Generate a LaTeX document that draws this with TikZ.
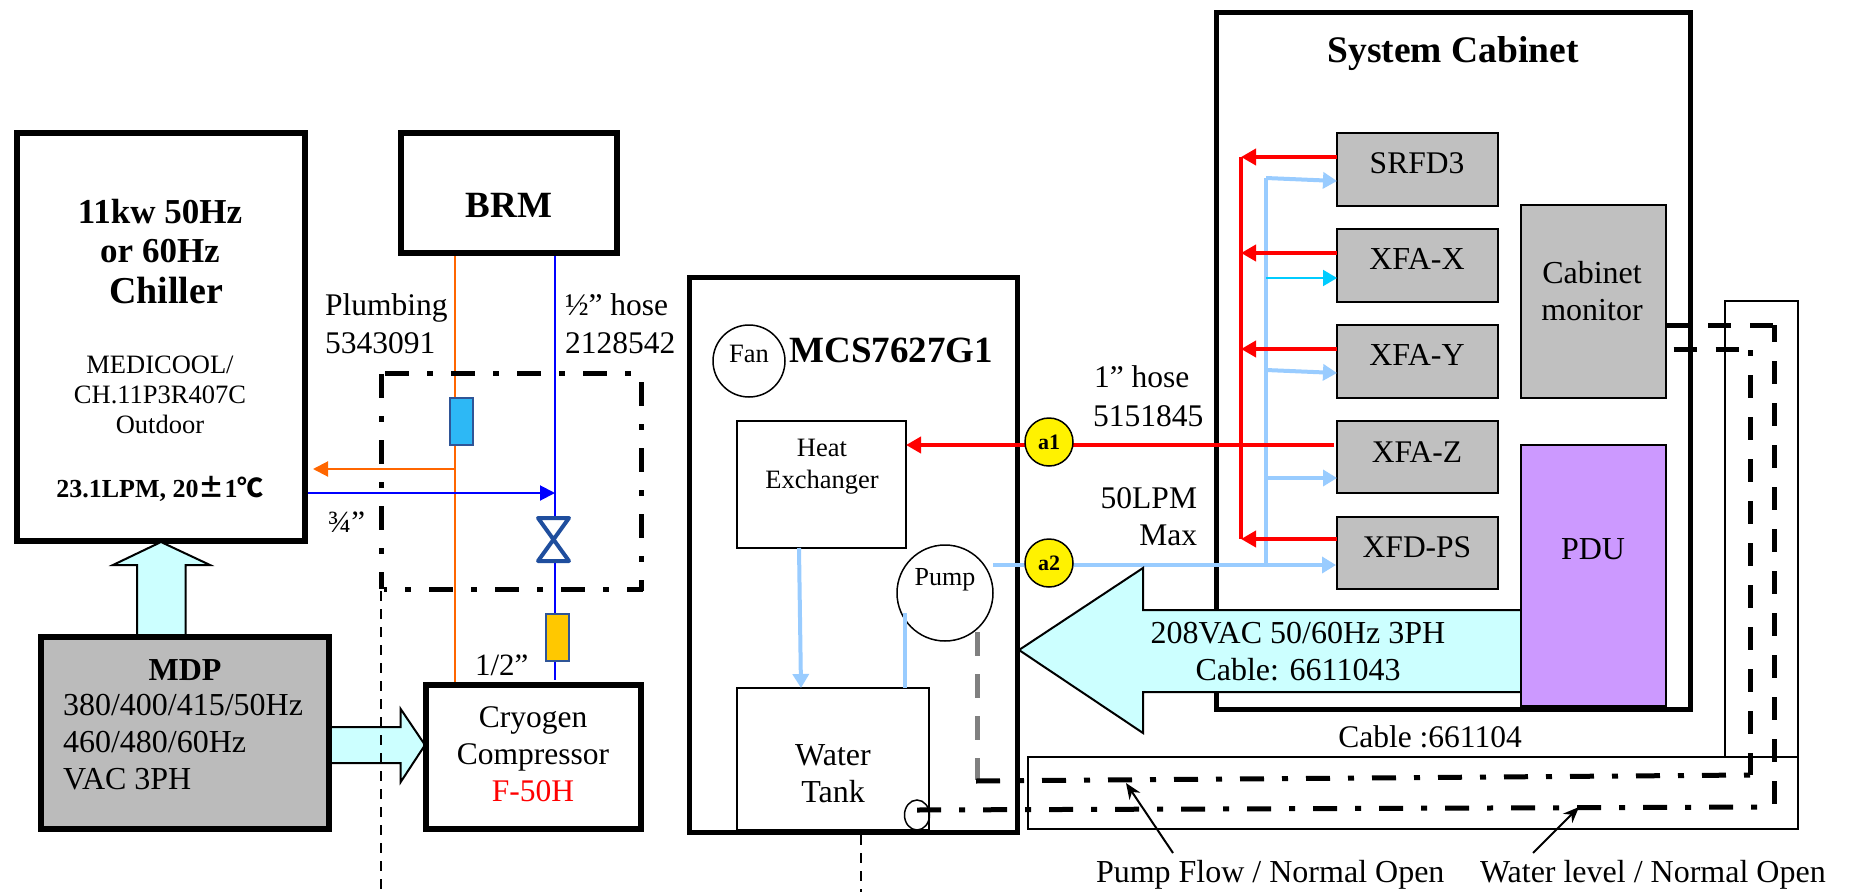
\documentclass[tikz,border=0pt]{standalone}
\usepackage{fontspec}
\setmainfont{Liberation Serif}
\newfontfamily\cjk{Noto Sans CJK SC}
\usetikzlibrary{arrows.meta,shapes.geometric}
\definecolor{pipeblue}{HTML}{99CCFF}
\definecolor{paleblock}{HTML}{CCFFFF}
\definecolor{greybox}{HTML}{C0C0C0}
\definecolor{mdpgrey}{HTML}{BBBBBB}
\definecolor{pdupurple}{HTML}{CC99FF}
\definecolor{orangeline}{HTML}{FF6600}
\definecolor{valveblue}{HTML}{1F4E9E}
\definecolor{edgeblue}{HTML}{2F5597}
\definecolor{filtercyan}{HTML}{2DB8F5}
\definecolor{filteramber}{HTML}{FFC800}
\definecolor{thincyan}{HTML}{00CCFF}
\newcommand{\fsz}[1]{\fontsize{#1}{#1}\selectfont}
\newcommand{\bx}[6][]{\node[#1,minimum width={#5-#3},minimum height={#6-#4}] (#2) at ({(#3+#5)/2},{(#4+#6)/2}) {};}
\tikzset{
  base box/.style={draw,rectangle,inner sep=0pt,outer sep=0pt},
  thick box/.style={base box,line width=6pt,fill=white},
  thin box/.style={base box,line width=2pt,fill=white},
  grey box/.style={base box,line width=2pt,fill=greybox},
  tube/.style={base box,line width=2pt,draw=edgeblue},
  txt/.style={anchor=base,inner sep=0pt,outer sep=0pt,align=center},
  ltxt/.style={anchor=base west,inner sep=0pt,outer sep=0pt,align=left},
  rtxt/.style={anchor=base east,inner sep=0pt,outer sep=0pt,align=right},
  badge/.style={draw,circle,fill=yellow,line width=1.5pt,inner sep=0pt,outer sep=0pt,minimum size=48pt},
  round box/.style={draw,circle,fill=white,line width=1.5pt,inner sep=0pt,outer sep=0pt},
  block/.style={draw,line width=2pt,fill=paleblock,line join=miter},
  redpipe/.style={red,line width=4pt},
  bluepipe/.style={pipeblue,line width=4pt},
  redhead/.style={redpipe,-{Triangle[length=15pt,width=16pt]}},
  bluehead/.style={bluepipe,-{Triangle[length=14pt,width=16pt]}},
  dashdotline/.style={line width=5pt,dash pattern=on 24pt off 18pt on 6pt off 18pt},
  dashline/.style={line width=5pt,dash pattern=on 23pt off 19pt},
  guide/.style={line width=2pt,dash pattern=on 10pt off 8pt},
  pointer/.style={line width=2pt,-{Stealth[length=16pt,width=13pt]}},
}
\begin{document}
\begin{tikzpicture}[x=1pt,y=-1pt]
\useasboundingbox (0,0) rectangle (1853,894);
% Left: chiller, BRM
\bx[thick box]{chiller}{17}{133}{305}{541}
\bx[thick box]{brm}{401}{133}{617}{253}
\node[txt] (t11) at (160,223) {\fsz{35}\bfseries 11kw 50Hz};
\node[txt] (t12) at (160,262) {\fsz{35}\bfseries or 60Hz};
\node[txt] (t13) at (166,303) {\fsz{38}\bfseries Chiller};
\node[txt] (t14) at (160,373) {\fsz{26.5}MEDICOOL/};
\node[txt] (t15) at (160,403) {\fsz{26.5}CH.11P3R407C};
\node[txt] (t16) at (160,433) {\fsz{26.5}Outdoor};
\node[txt] (t17) at (160,497) {\fsz{26}\bfseries 23.1LPM, 20{\cjk ±}1{\cjk ℃}};
\node[txt] (tbrm) at (509,217) {\fsz{37}\bfseries BRM};
% Block arrows
\draw[block] (161,542) -- (210,565) -- (185.5,565) -- (185.5,637) -- (137,637) -- (137,565) -- (113,565) -- cycle;
\draw[block] (332,727) -- (400.7,727) -- (400.7,709) -- (425,745) -- (400.7,782) -- (400.7,763) -- (332,763);
% Pipes
\coordinate (orbr) at (454.5,256);
\coordinate (orcr) at (454.5,685);
\coordinate (orjn) at (454.5,469);
\coordinate (blbr) at (555,256);
\coordinate (bljn) at (555,493);
\coordinate (vtop) at (555,518);
\coordinate (vbot) at (555,561);
\coordinate (blcr) at (555,680);
\coordinate (chout) at (308,493);
\coordinate (chin) at (313,469);
\draw[orangeline,line width=2pt] (orbr) -- (orcr);
\draw[orangeline,line width=2pt,-{Triangle[length=15pt,width=15pt]}] (orjn) -- (chin);
\draw[blue,line width=2pt] (blbr) -- (vtop);
\draw[blue,line width=2pt] (vbot) -- (blcr);
\draw[blue,line width=2pt,-{Triangle[length=15pt,width=15pt]}] (chout) -- (bljn);
% Dash-dot enclosure
\coordinate (dtl) at (385,373);
\coordinate (dtr) at (641,373);
\coordinate (dll) at (381,374);
\coordinate (dlb) at (381,589);
\coordinate (drt) at (641,382);
\coordinate (drb) at (641,591);
\coordinate (dbl) at (384,589);
\coordinate (dbr) at (643,589);
\draw[dashdotline] (dtl) -- (dtr);
\draw[dashdotline] (dll) -- (dlb);
\draw[dashdotline] (drt) -- (drb);
\draw[dashdotline,dash phase=21pt] (dbl) -- (dbr);
\bx[tube,fill=filtercyan]{filterA}{450}{398}{473}{445}
\bx[tube,fill=filteramber]{filterB}{546}{614}{569}{661}
\draw[valveblue,line width=4pt,line join=round,fill=white] (538,518) -- (569,518) -- (538,561) -- (569,561) -- cycle;
\node[ltxt] (tpl1) at (325,315) {\fsz{31.5}Plumbing};
\node[ltxt] (tpl2) at (325,353) {\fsz{31.5}5343091};
\node[ltxt] (thl1) at (565,315) {\fsz{31.5}½” hose};
\node[ltxt] (thl2) at (565,353) {\fsz{31.5}2128542};
\node[ltxt] (t34) at (328,532) {\fsz{31}¾”};
\node[ltxt] (t12in) at (475,675) {\fsz{31}1/2”};
% MDP, compressor
\bx[thick box,fill=mdpgrey]{mdp}{41}{637}{329}{829}
\bx[thick box]{cryo}{425.5}{685}{641}{829}
\node[txt] (tmdp) at (185,680) {\fsz{32}\bfseries MDP};
\node[ltxt] (tm1) at (63,715) {\fsz{32}380/400/415/50Hz};
\node[ltxt] (tm2) at (63,752) {\fsz{32}460/480/60Hz};
\node[ltxt] (tm3) at (63,789) {\fsz{32}VAC 3PH};
\node[txt] (tc1) at (533,727) {\fsz{31.5}Cryogen};
\node[txt] (tc2) at (533,764) {\fsz{31.5}Compressor};
\node[txt,text=red] (tc3) at (533,801) {\fsz{31.5}F-50H};
\coordinate (g1a) at (381,591);
\coordinate (g1b) at (381,890);
\draw[guide] (g1a) -- (g1b);
% MCS
\bx[base box,line width=5pt,fill=white]{mcs}{689}{277.5}{1017}{832.5}
\coordinate (g2a) at (861,835);
\coordinate (g2b) at (861,892);
\draw[guide] (g2a) -- (g2b);
\node[round box,minimum size=72pt] (fan) at (749,361) {};
\node[txt] (tfan) at (749,362) {\fsz{26.5}Fan};
\node[txt] (tmcs) at (891.5,362) {\fsz{37}\bfseries MCS7627G1};
\bx[thin box]{hx}{737}{421}{906}{548}
\node[txt] (thx1) at (822,456) {\fsz{26.5}Heat};
\node[txt] (thx2) at (822,488) {\fsz{26.5}Exchanger};
\bx[thin box]{tank}{737}{688}{929}{830}
\node[txt] (ttk1) at (833,765) {\fsz{32}Water};
\node[txt] (ttk2) at (833,802) {\fsz{32}Tank};
\node[round box,minimum size=96pt] (pump) at (945,593) {};
\node[txt] (tpump) at (945,585) {\fsz{26}Pump};
\coordinate (hxout) at (799,548);
\coordinate (tkin) at (801,688);
\coordinate (pmpin) at (905,613);
\coordinate (tkout) at (905,688);
\draw[bluehead] (hxout) -- (tkin);
\draw[bluepipe] (tkout) -- (pmpin);
% System cabinet
\bx[base box,line width=5pt,fill=white]{cab}{1216.5}{12.5}{1690}{709}
\node[txt] (tcab) at (1453,62) {\fsz{37.5}\bfseries System Cabinet};
\bx[grey box]{srfd}{1337}{133}{1498}{206}
\bx[grey box]{xfax}{1337}{229}{1498}{302}
\bx[grey box]{xfay}{1337}{325}{1498}{398}
\bx[grey box]{xfaz}{1337}{421}{1498}{493}
\bx[grey box]{xfd}{1337}{517}{1498}{589}
\bx[grey box]{mon}{1521}{205}{1666}{398}
\node[txt] (tsr) at (1417,173) {\fsz{31.5}SRFD3};
\node[txt] (txx) at (1417,269) {\fsz{32}XFA-X};
\node[txt] (txy) at (1417,365) {\fsz{32}XFA-Y};
\node[txt] (txz) at (1417,462) {\fsz{31.5}XFA-Z};
\node[txt] (txd) at (1417,557) {\fsz{31.5}XFD-PS};
\node[txt] (tm1b) at (1592,283) {\fsz{32}Cabinet};
\node[txt] (tm2b) at (1592,320) {\fsz{32}monitor};
% Red and blue manifolds
\coordinate (rs) at (1241,157);
\coordinate (rx) at (1241,253);
\coordinate (ry) at (1241,349);
\coordinate (rd) at (1241,539);
\coordinate (bs) at (1266,178);
\coordinate (bx) at (1266,278);
\coordinate (by) at (1266,370);
\coordinate (bz) at (1266,478);
\coordinate (bd) at (1266,565);
\coordinate (bse) at (1337,181);
\coordinate (bye) at (1337,373);
\draw[redpipe] (rs) -- (rd);
\draw[bluepipe] (bs) -- (bd);
\draw[redhead] (srfd.west |- rs) -- (rs);
\draw[redhead] (xfax.west |- rx) -- (rx);
\draw[redhead] (xfay.west |- ry) -- (ry);
\draw[redhead] (xfd.west |- rd) -- (rd);
\draw[bluehead] (bs) -- (bse);
\draw[thincyan,line width=2pt,-{Triangle[length=14pt,width=16pt]}] (bx) -- (xfax.west |- bx);
\draw[bluehead] (by) -- (bye);
\draw[bluehead] (bz) -- (xfaz.west |- bz);
\coordinate (zin) at (1334,445);
\coordinate (hxin) at (906,445);
\draw[redhead] (zin) -- (hxin);
\coordinate (pout) at (993,565);
\coordinate (xfin) at (1336,565);
\draw[bluehead] (pout) -- (xfin);
\node[badge] (a1) at (1049,442) {\fsz{22}\bfseries a1};
\node[badge] (a2) at (1049,563) {\fsz{22}\bfseries a2};
% Big arrow and PDU
\draw[block] (1521,610) -- (1143,610) -- (1143,568) -- (1019,650) -- (1143,733) -- (1143,692) -- (1521,692);
\bx[base box,line width=2pt,fill=pdupurple]{pdu}{1521}{445}{1666}{706}
\node[txt] (tpdu) at (1593,559) {\fsz{32}PDU};
\node[txt] (tb1) at (1298,643) {\fsz{32}208VAC 50/60Hz 3PH};
\node[txt] (tb2) at (1298,680) {\fsz{32}Cable: 6611043};
\node[ltxt] (th1) at (1094,387.5) {\fsz{31.5}1” hose};
\node[ltxt] (th2) at (1093,426) {\fsz{31.5}5151845};
\node[rtxt] (tl1) at (1197,508) {\fsz{31.5}50LPM};
\node[rtxt] (tl2) at (1197,545) {\fsz{31.5}Max};
\node[txt] (tcb) at (1430,747) {\fsz{31.5}Cable :661104};
% Cable trunking
\bx[base box,line width=1.5pt]{trunkv}{1725}{301}{1798}{757}
\bx[base box,line width=1.5pt]{trunkh}{1028}{757}{1798}{829}
\coordinate (grya) at (977,632);
\coordinate (gryb) at (977,780);
\draw[gray,line width=5pt,dash pattern=on 24pt off 18pt] (grya) -- (gryb);
\node[draw,ellipse,line width=1.5pt,inner sep=0pt,minimum width=25pt,minimum height=30pt] (lvl) at (917,815) {};
\coordinate (flowa) at (976,781);
\coordinate (flowb) at (1750,775);
\coordinate (flowc) at (1750,350);
\coordinate (flowd) at (1673.6,349);
\coordinate (flowe) at (1740,349);
\coordinate (levela) at (917,810);
\coordinate (levelb) at (1774,807);
\coordinate (levelc) at (1774,325);
\draw[dashdotline] (flowa) -- (flowb);
\draw[dashdotline] (levela) -- (levelb);
\draw[dashline] (flowd) -- (flowe);
\draw[dashline,dash phase=17pt] (flowc) -- (flowb);
\draw[dashline,shorten >=-2.5pt] (mon.east |- levelc) -- (levelc);
\draw[dashline,dash phase=6pt] (levelc) -- (levelb);
% Labels at bottom
\node[ltxt] (tpf) at (1096,882) {\fsz{32}Pump Flow / Normal Open};
\node[ltxt] (twl) at (1480,882) {\fsz{32}Water level / Normal Open};
\coordinate (af0) at (1173,853);
\coordinate (af1) at (1126,783);
\coordinate (al0) at (1533,853);
\coordinate (al1) at (1579,807);
\draw[pointer] (af0) -- (af1);
\draw[pointer] (al0) -- (al1);
\end{tikzpicture}
\end{document}
